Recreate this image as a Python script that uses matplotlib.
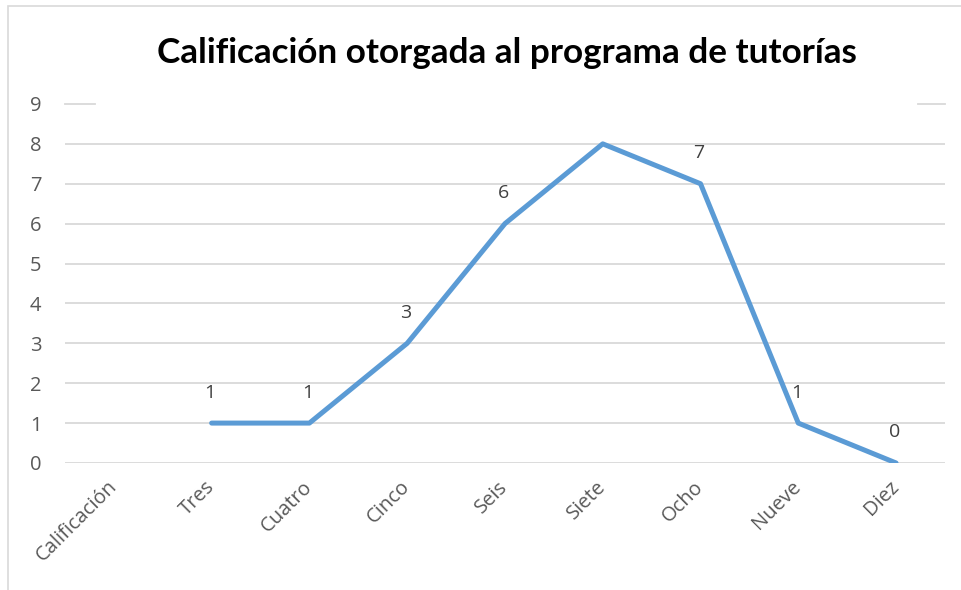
import matplotlib.pyplot as plt
from matplotlib.patches import Rectangle
import numpy as np

categorias = ["Calificación", "Tres", "Cuatro", "Cinco", "Seis", "Siete", "Ocho", "Nueve", "Diez"]
valores = [np.nan, 1, 1, 3, 6, 8, 7, 1, 0]
# la etiqueta de "Siete" no aparece en el original
etiquetas = ["", "1", "1", "3", "6", "", "7", "1", "0"]
titulo = "Calificación otorgada al programa de tutorías"

azul = "#5B9BD5"
gris_txt = "#595959"
gris_linea = "#D9D9D9"

fig = plt.figure(figsize=(9.61, 5.9), dpi=100)
ax = fig.add_axes([0.0676, 0.2153, 0.9157, 0.6085])

x = np.arange(len(categorias))
ax.plot(x, valores, color=azul, linewidth=3.6, solid_joinstyle="round",
        solid_capstyle="round", zorder=3)

for xi, v, t in zip(x, valores, etiquetas):
    if t:
        ax.annotate(t, (xi, v), xytext=(-1, 22), textcoords="offset points",
                    ha="center", va="center", fontsize=14, color="#404040",
                    family="Open Sans")

ax.set_xlim(-0.5, len(categorias) - 0.5)
ax.set_ylim(0, 9)
ax.set_yticks(range(10))

# lineas de cuadricula; la de 9 queda cortada por el titulo
for yv in range(9):
    ax.axhline(yv, color=gris_linea, linewidth=1.3, zorder=1)
ax.axhline(9, xmin=0, xmax=0.034, color=gris_linea, linewidth=1.3, zorder=1, clip_on=False)
ax.axhline(9, xmin=0.969, xmax=1, color=gris_linea, linewidth=1.3, zorder=1, clip_on=False)

for s in ax.spines.values():
    s.set_visible(False)

ax.set_xticks(x)
ax.set_xticklabels(categorias, rotation=45, ha="right", va="center",
                   rotation_mode="anchor", fontsize=14.5, color=gris_txt,
                   family="Open Sans")
ax.tick_params(axis="x", length=0, pad=15)
ax.tick_params(axis="y", length=0, pad=17, labelsize=14.5, labelcolor=gris_txt)
for lb in ax.get_yticklabels():
    lb.set_family("Open Sans")

fig.text(0.5276, 0.91, titulo, ha="center", va="center", fontsize=25.3,
         fontweight="bold", family="Lato", color="black")

# marco del grafico
fig.patches.append(Rectangle((8 / 961, -0.1), 1.2, 1 - 6 / 590 + 0.1,
                             transform=fig.transFigure, fill=False,
                             edgecolor=gris_linea, linewidth=1.2))

fig.savefig("out.png", dpi=100)
